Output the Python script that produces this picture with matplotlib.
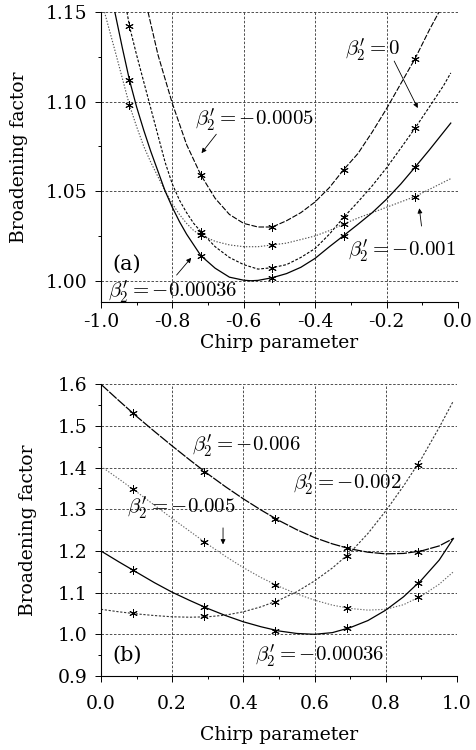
import numpy as np
import matplotlib
matplotlib.use('Agg')
import matplotlib.pyplot as plt
from matplotlib.ticker import MultipleLocator, FormatStrFormatter

plt.rcParams['font.family'] = ['DejaVu Serif']
plt.rcParams['mathtext.fontset'] = 'cm'

# ---- panel (a): chirp parameter -1..0 ----
a_mark_x = [-0.92, -0.72, -0.52, -0.32, -0.12]

# beta2' = -0.0005 (top curve)
a1_x = [-0.868, -0.84, -0.80, -0.76, -0.72, -0.68, -0.64, -0.60, -0.56, -0.52, -0.48, -0.44,
        -0.40, -0.36, -0.32, -0.28, -0.24, -0.20, -0.16, -0.12, -0.08, -0.053]
a1_y = [1.150, 1.126, 1.099, 1.076, 1.059, 1.046, 1.037, 1.032, 1.030, 1.030, 1.0335, 1.038,
        1.044, 1.052, 1.062, 1.071, 1.083, 1.096, 1.110, 1.124, 1.140, 1.150]
a1_mark = [np.nan, 1.059, 1.030, 1.062, 1.124]

# beta2' = 0
a2_x = [-0.927, -0.92, -0.90, -0.88, -0.86, -0.84, -0.82, -0.80, -0.78, -0.76, -0.74, -0.72,
        -0.68, -0.64, -0.60, -0.56, -0.52, -0.48, -0.44, -0.40, -0.36, -0.32, -0.28, -0.24,
        -0.20, -0.16, -0.12, -0.08, -0.04, -0.02]
a2_y = [1.150, 1.142, 1.126, 1.111, 1.096, 1.081, 1.066, 1.054, 1.045, 1.038, 1.032, 1.0274,
        1.019, 1.013, 1.009, 1.0065, 1.0073, 1.009, 1.013, 1.018, 1.026, 1.0354, 1.044, 1.053,
        1.063, 1.074, 1.0852, 1.097, 1.109, 1.116]
a2_mark = [1.142, 1.0274, 1.0073, 1.0354, 1.0852]

# beta2' = -0.001
a3_x = [-0.99, -0.96, -0.94, -0.92, -0.90, -0.88, -0.86, -0.84, -0.82, -0.80, -0.78, -0.76,
        -0.74, -0.72, -0.68, -0.64, -0.60, -0.56, -0.52, -0.48, -0.44, -0.40, -0.36, -0.32,
        -0.28, -0.24, -0.20, -0.16, -0.12, -0.08, -0.04, -0.02]
a3_y = [1.150, 1.128, 1.113, 1.098, 1.086, 1.075, 1.066, 1.058, 1.050, 1.043, 1.037, 1.032,
        1.028, 1.0255, 1.022, 1.020, 1.019, 1.019, 1.020, 1.021, 1.023, 1.025, 1.028, 1.0317,
        1.035, 1.038, 1.041, 1.044, 1.047, 1.051, 1.055, 1.057]
a3_mark = [1.098, 1.0255, 1.020, 1.0317, 1.047]

# beta2' = -0.00036
a4_x = [-0.961, -0.94, -0.92, -0.90, -0.88, -0.86, -0.84, -0.82, -0.80, -0.78, -0.76, -0.74,
        -0.72, -0.68, -0.64, -0.60, -0.58, -0.56, -0.52, -0.48, -0.44, -0.40, -0.36, -0.32,
        -0.28, -0.24, -0.20, -0.16, -0.12, -0.08, -0.04, -0.02]
a4_y = [1.150, 1.130, 1.112, 1.097, 1.084, 1.072, 1.061, 1.050, 1.041, 1.033, 1.026, 1.020,
        1.014, 1.007, 1.002, 1.0003, 1.000, 1.0002, 1.0017, 1.004, 1.0075, 1.0125, 1.019, 1.0252,
        1.0315, 1.038, 1.0455, 1.054, 1.0634, 1.073, 1.083, 1.088]
a4_mark = [1.112, 1.014, 1.0017, 1.0252, 1.0634]

# ---- panel (b): chirp parameter 0..1 ----
b_x = [0.00, 0.05, 0.10, 0.15, 0.20, 0.25, 0.30, 0.35, 0.40, 0.45, 0.50,
       0.55, 0.60, 0.65, 0.70, 0.75, 0.80, 0.85, 0.90, 0.95, 0.99]
b_mark_x = [0.09, 0.29, 0.49, 0.69, 0.89]

b1_y = [1.600, 1.561, 1.523, 1.487, 1.452, 1.418, 1.385, 1.354, 1.325, 1.298, 1.273,
        1.251, 1.232, 1.217, 1.205, 1.197, 1.193, 1.194, 1.200, 1.212, 1.230]   # -0.006
b1_mark = [1.530, 1.390, 1.276, 1.206, 1.198]
b2_y = [1.060, 1.054, 1.049, 1.045, 1.042, 1.041, 1.042, 1.046, 1.054, 1.066, 1.082,
        1.102, 1.128, 1.159, 1.196, 1.242, 1.296, 1.356, 1.421, 1.496, 1.560]   # -0.002
b2_mark = [1.050, 1.043, 1.078, 1.188, 1.407]
b3_y = [1.403, 1.373, 1.342, 1.310, 1.278, 1.247, 1.216, 1.187, 1.160, 1.136, 1.115,
        1.097, 1.082, 1.070, 1.062, 1.058, 1.060, 1.071, 1.092, 1.120, 1.150]   # -0.005
b3_mark = [1.348, 1.222, 1.118, 1.062, 1.090]
b4_y = [1.200, 1.174, 1.149, 1.124, 1.101, 1.081, 1.062, 1.045, 1.030, 1.018, 1.008,
        1.002, 1.000, 1.004, 1.016, 1.033, 1.058, 1.090, 1.130, 1.178, 1.230]   # -0.00036
b4_mark = [1.154, 1.066, 1.009, 1.014, 1.124]

fig = plt.figure(figsize=(4.76, 7.5), dpi=100)
ax1 = fig.add_axes([0.212, 0.597, 0.750, 0.387])
ax2 = fig.add_axes([0.212, 0.0987, 0.748, 0.389])

mk = dict(marker=(6, 2, 0), ms=6, mew=0.7, color='k', ls='none', zorder=4)

def style(ax):
    for s in ['top', 'right']:
        ax.spines[s].set_visible(False)
    ax.grid(True, which='major', ls=(0, (3, 2)), color='0.2', lw=0.6)
    ax.tick_params(which='major', direction='out', length=4, width=0.7, labelsize=13.5)
    ax.tick_params(which='minor', direction='out', length=2.5, width=0.7)
    ax.tick_params(axis='y', pad=6)

# panel (a)
ax1.plot(a1_x, a1_y, color='k', lw=0.8, ls=(0, (5, 1.5)))
ax1.plot(a2_x, a2_y, color='k', lw=0.8, ls=(0, (2.5, 1.5)))
ax1.plot(a3_x, a3_y, color='0.3', lw=0.8, ls=(0, (1.2, 1.5)))
ax1.plot(a4_x, a4_y, color='k', lw=0.9, ls='-')
for ys in [a1_mark, a2_mark, a3_mark, a4_mark]:
    ax1.plot(a_mark_x, ys, **mk)

ax1.set_xlim(-1.0, 0.0)
ax1.set_ylim(0.988, 1.15)
ax1.xaxis.set_major_locator(MultipleLocator(0.2))
ax1.xaxis.set_minor_locator(MultipleLocator(0.1))
ax1.yaxis.set_major_locator(MultipleLocator(0.05))
ax1.yaxis.set_minor_locator(MultipleLocator(0.025))
ax1.xaxis.set_major_formatter(FormatStrFormatter('%.1f'))
ax1.yaxis.set_major_formatter(FormatStrFormatter('%.2f'))
style(ax1)
ax1.tick_params(axis='x', pad=4)
ax1.set_xlabel('Chirp parameter', fontsize=13.5)
ax1.set_ylabel('Broadening factor', fontsize=13.5)
ax1.xaxis.set_label_coords(0.5, -0.11)
ax1.yaxis.set_label_coords(-0.205, 0.5)

arr = dict(arrowstyle='-|>', lw=0.6, color='k', mutation_scale=7)
tk = dict(fontsize=15, ha='left', va='center')
ax1.text(-0.317, 1.129, r"$\beta_2'=0$", **tk)
ax1.annotate('', xy=(-0.109, 1.095), xytext=(-0.182, 1.124), arrowprops=arr)
ax1.text(-0.737, 1.0898, r"$\beta_2'=-0.0005$", **tk)
ax1.annotate('', xy=(-0.723, 1.070), xytext=(-0.672, 1.083), arrowprops=arr)
ax1.text(-0.308, 1.017, r"$\beta_2'=-0.001$", **tk)
ax1.annotate('', xy=(-0.109, 1.042), xytext=(-0.101, 1.029), arrowprops=arr)
ax1.text(-0.98, 0.994, r"$\beta_2'=-0.00036$", **tk)
ax1.annotate('', xy=(-0.742, 1.014), xytext=(-0.793, 1.002), arrowprops=arr)
ax1.text(-0.927, 1.009, '(a)', fontsize=15, ha='center', va='center')

# panel (b)
ax2.plot(b_x, b1_y, color='k', lw=0.9, ls=(0, (8, 1)))
ax2.plot(b_x, b2_y, color='0.2', lw=0.8, ls=(0, (2, 1.5)))
ax2.plot(b_x, b3_y, color='0.4', lw=0.8, ls=(0, (1.2, 1.5)))
ax2.plot(b_x, b4_y, color='k', lw=0.9, ls='-')
for ys in [b1_mark, b2_mark, b3_mark, b4_mark]:
    ax2.plot(b_mark_x, ys, **mk)

ax2.set_xlim(0.0, 1.0)
ax2.set_ylim(0.9, 1.6)
ax2.xaxis.set_major_locator(MultipleLocator(0.2))
ax2.xaxis.set_minor_locator(MultipleLocator(0.1))
ax2.yaxis.set_major_locator(MultipleLocator(0.1))
ax2.yaxis.set_minor_locator(MultipleLocator(0.05))
ax2.xaxis.set_major_formatter(FormatStrFormatter('%.1f'))
ax2.yaxis.set_major_formatter(FormatStrFormatter('%.1f'))
style(ax2)
ax2.tick_params(axis='x', pad=10)
ax2.set_xlabel('Chirp parameter', fontsize=13.5)
ax2.set_ylabel('Broadening factor', fontsize=13.5)
ax2.xaxis.set_label_coords(0.5, -0.17)
ax2.yaxis.set_label_coords(-0.18, 0.5)

ax2.text(0.255, 1.454, r"$\beta_2'=-0.006$", **tk)
ax2.text(0.54, 1.362, r"$\beta_2'=-0.002$", **tk)
ax2.text(0.073, 1.305, r"$\beta_2'=-0.005$", **tk)
ax2.annotate('', xy=(0.343, 1.209), xytext=(0.343, 1.262), arrowprops=arr)
ax2.text(0.433, 0.95, r"$\beta_2'=-0.00036$", **tk)
ax2.text(0.073, 0.95, '(b)', fontsize=15, ha='center', va='center')

fig.savefig('out.png', dpi=100)
